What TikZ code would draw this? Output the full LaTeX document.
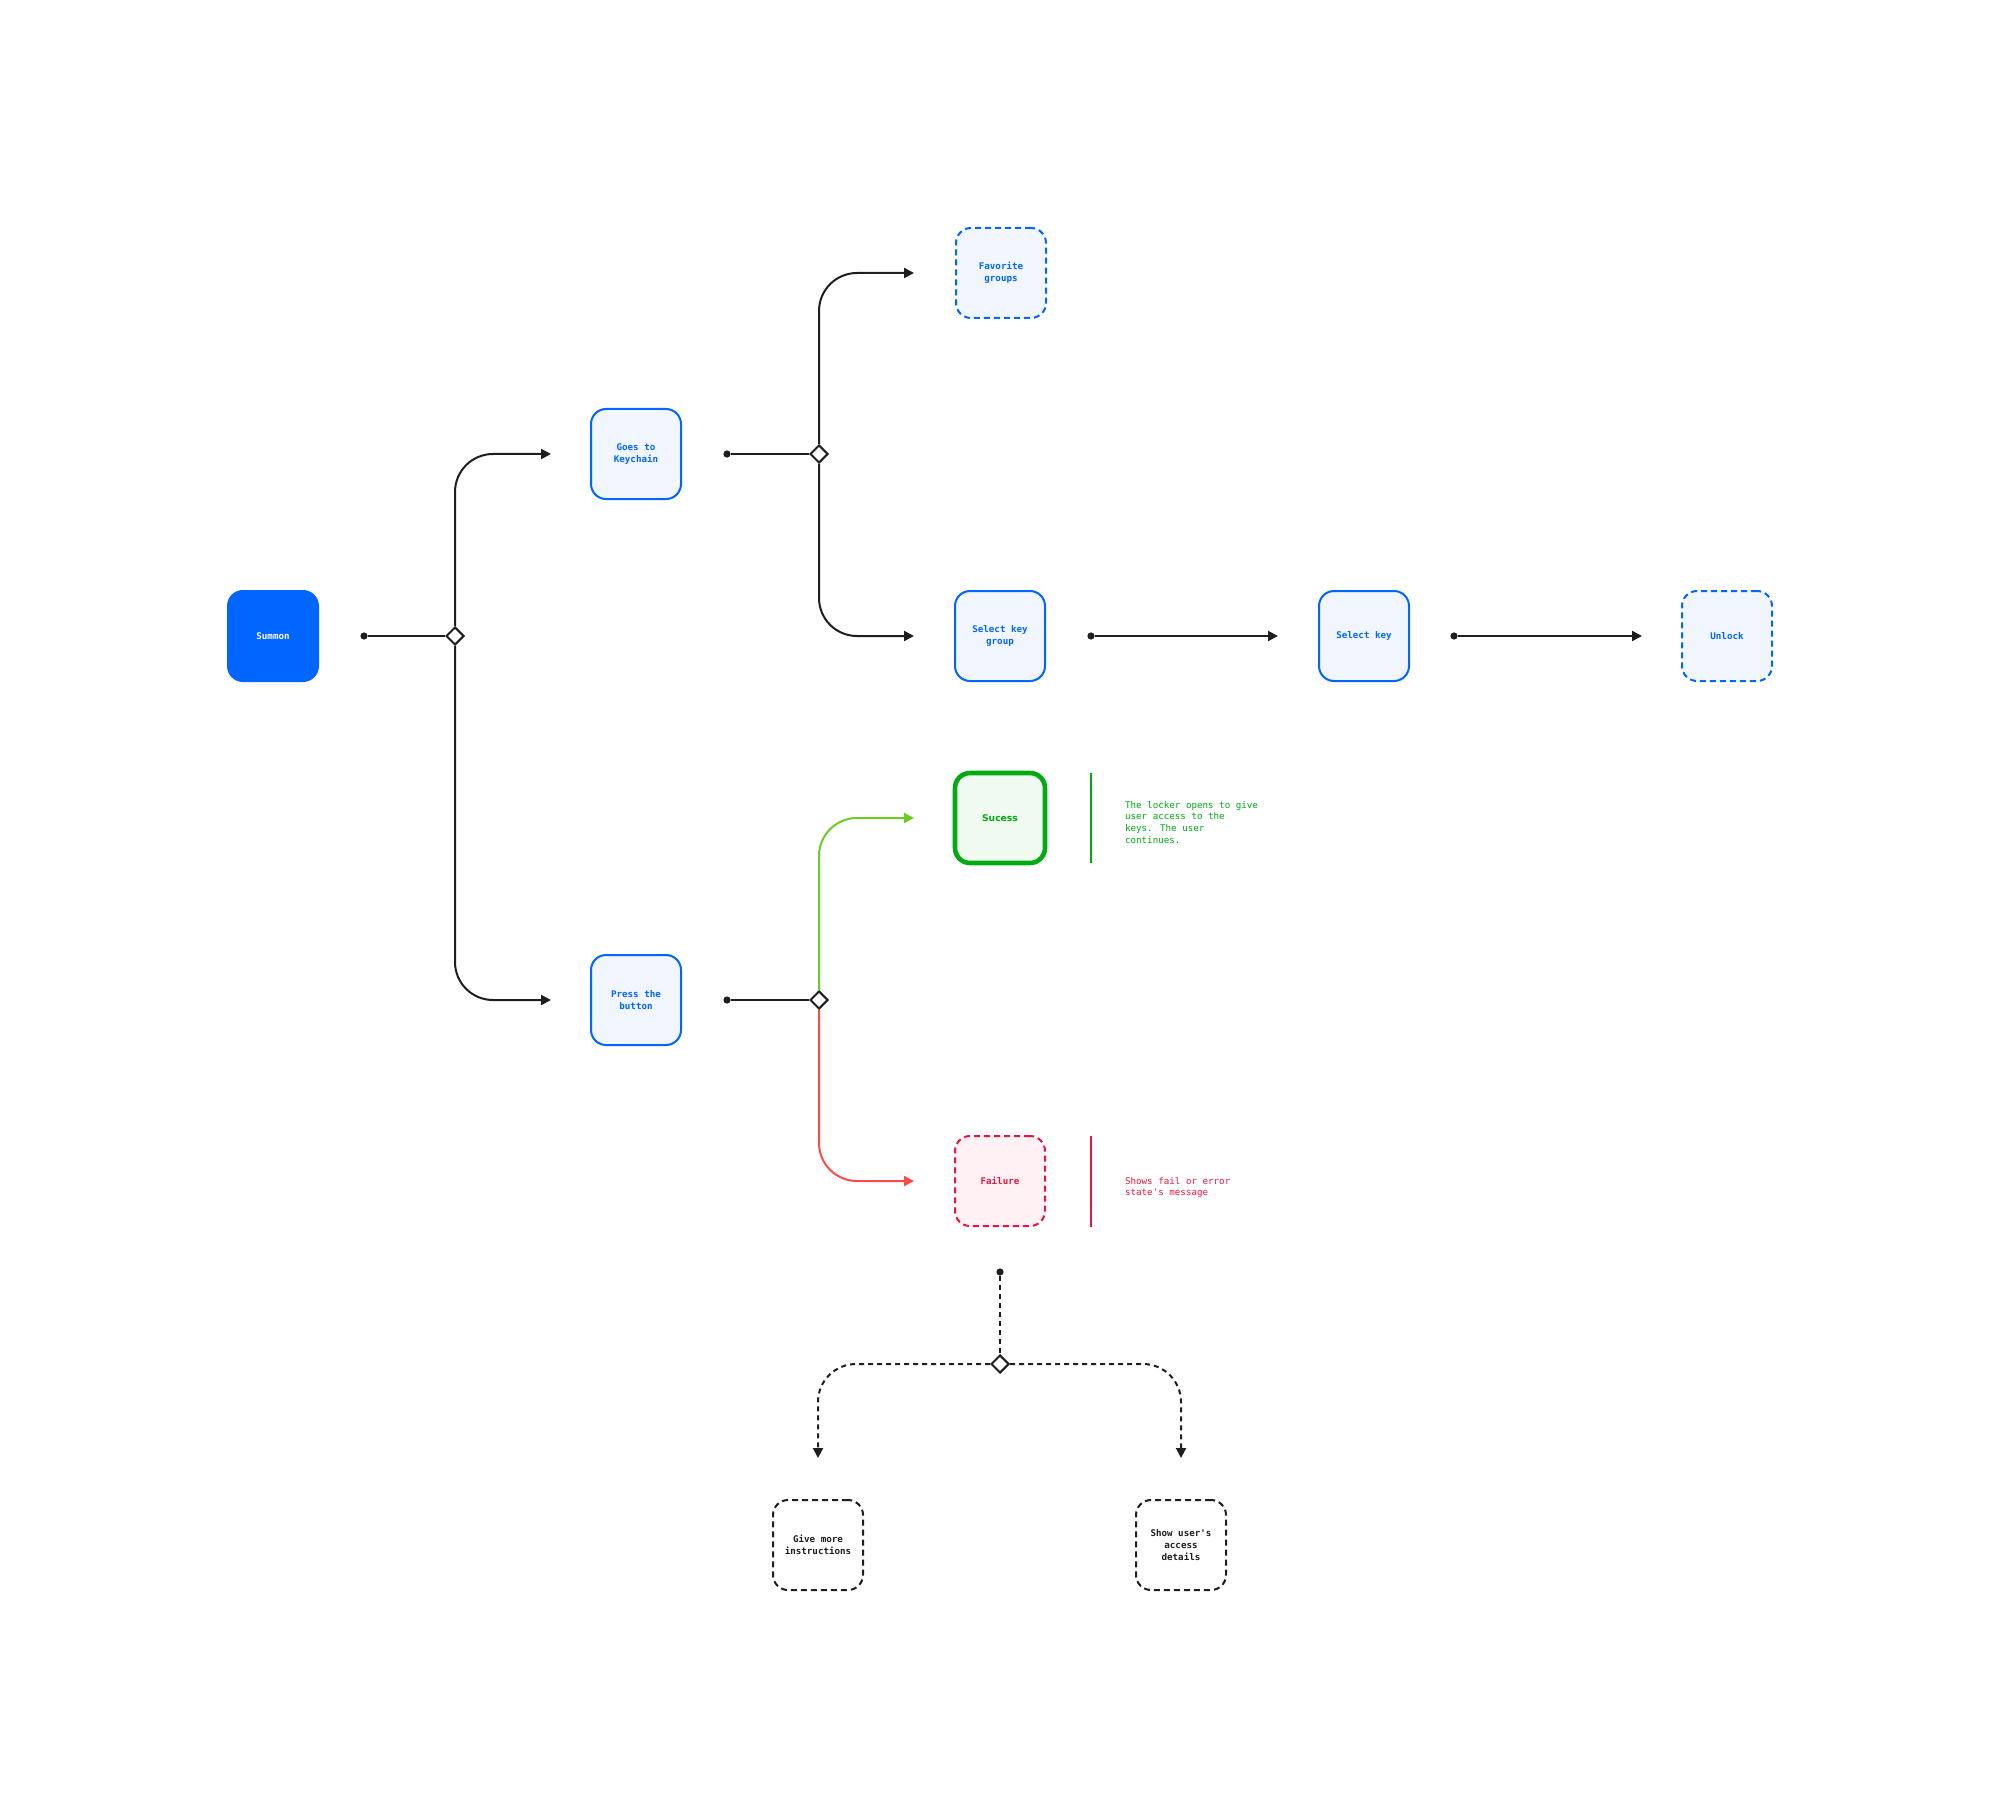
\documentclass[tikz,border=0pt]{standalone}
\usepackage{fontspec}
\newfontfamily\boxmono{DejaVu Sans Mono}
\newfontfamily\boxsans{DejaVu Sans}
\usetikzlibrary{arrows.meta,shapes.geometric}
\definecolor{cblue}{HTML}{0066FF}
\definecolor{cbluebg}{HTML}{F1F5FE}
\definecolor{cgreen}{HTML}{00AA10}
\definecolor{cgreenbg}{HTML}{F0FAF1}
\definecolor{cgreenline}{HTML}{6CCB26}
\definecolor{cred}{HTML}{E8163F}
\definecolor{credbg}{HTML}{FFF1F4}
\definecolor{credline}{HTML}{FF4A4A}
\definecolor{cdark}{HTML}{1E1E1E}
\tikzset{
  boxbase/.style={rectangle, rounded corners=7.5pt, minimum width=45pt, minimum height=45pt,
    inner sep=1pt, align=center, line width=1pt,
    font=\boxmono\bfseries\fontsize{4.6}{6}\selectfont},
  filledbox/.style={boxbase, fill=cblue, draw=cblue, text=white},
  bluebox/.style={boxbase, draw=cblue, fill=cbluebg, text=cblue},
  bluedash/.style={bluebox, dash pattern=on 3pt off 2pt},
  greenbox/.style={boxbase, draw=cgreen, fill=cgreenbg, text=cgreen, line width=2.3pt,
    font=\boxsans\bfseries\fontsize{4.6}{6}\selectfont},
  redbox/.style={boxbase, draw=cred, fill=credbg, text=cred, dash pattern=on 3pt off 2pt},
  greybox/.style={boxbase, draw=cdark, fill=white, text=cdark, dash pattern=on 3pt off 2pt},
  conn/.style={draw=cdark, line width=1pt},
  arr/.style={-{Triangle[length=5pt,width=5pt]}},
  turn/.style={rounded corners=19pt},
  dotted conn/.style={dash pattern=on 2.5pt off 2pt},
  dotnode/.style={circle, fill=cdark, inner sep=0pt, minimum size=3.6pt},
  dia/.style={diamond, draw=cdark, fill=white, line width=1pt, inner sep=0pt, minimum size=9pt},
  note/.style={anchor=north west, align=left, font=\boxmono\fontsize{4.6}{5.9}\selectfont},
}
\begin{document}
\begin{tikzpicture}[x=0.5pt,y=-0.5pt]
\useasboundingbox (0,0) rectangle (2000,1818);
% boxes
\node[filledbox] (summon) at (273,636) {Summon};
\node[bluebox] (keychain) at (636,454) {Goes to\\Keychain};
\node[bluedash] (fav) at (1001,273) {Favorite\\groups};
\node[bluebox] (skg) at (1000,636) {Select key\\group};
\node[bluebox] (sk) at (1364,636) {Select key};
\node[bluedash] (unlock) at (1727,636) {Unlock};
\node[bluebox] (press) at (636,1000) {Press the\\button};
\node[greenbox] (success) at (1000,818) {Sucess};
\node[redbox] (failure) at (1000,1181) {Failure};
\node[greybox] (give) at (818,1545) {Give more\\instructions};
\node[greybox] (show) at (1181,1545) {Show user's\\access\\details};
% junctions
\node[dotnode] (d0) at (364,636) {};
\node[dia] (m0) at (455,636) {};
\node[dotnode] (d1) at (727,454) {};
\node[dia] (m1) at (819,454) {};
\node[dotnode] (d2) at (1091,636) {};
\node[dotnode] (d3) at (1454,636) {};
\node[dotnode] (d4) at (727,1000) {};
\node[dia] (m2) at (819,1000) {};
\node[dotnode] (d5) at (1000,1272) {};
\node[dia] (m3) at (1000,1364) {};
% arrow ends
\coordinate (a1) at (551,454);
\coordinate (a2) at (551,1000);
\coordinate (a3) at (914,273);
\coordinate (a4) at (914,636);
\coordinate (a5) at (1278,636);
\coordinate (a6) at (1642,636);
\coordinate (a7) at (914,818);
\coordinate (a8) at (914,1181);
\coordinate (a9) at (818,1458);
\coordinate (a10) at (1181,1458);
% connectors
\draw[conn] (d0) -- (m0.west);
\draw[conn,arr,turn] (m0.north) |- (a1);
\draw[conn,arr,turn] (m0.south) |- (a2);
\draw[conn] (d1) -- (m1.west);
\draw[conn,arr,turn] (m1.north) |- (a3);
\draw[conn,arr,turn] (m1.south) |- (a4);
\draw[conn,arr] (d2) -- (a5);
\draw[conn,arr] (d3) -- (a6);
\draw[conn] (d4) -- (m2.west);
\draw[conn,draw=cgreenline,arr,turn] (m2.north) |- (a7);
\draw[conn,draw=credline,arr,turn] (m2.south) |- (a8);
\draw[conn,dotted conn] (d5) -- (m3.north);
\draw[conn,dotted conn,arr,turn] (m3.west) -| (a9);
\draw[conn,dotted conn,arr,turn] (m3.east) -| (a10);
% notes
\coordinate (gb1) at (1091,773);
\coordinate (gb2) at (1091,863);
\draw[cgreen, line width=1.2pt] (gb1) -- (gb2);
\node[note, text=cgreen] (gnote) at (1118,794) {The locker opens to give\\user access to the\\keys. The user\\continues.};
\coordinate (rb1) at (1091,1136);
\coordinate (rb2) at (1091,1227);
\draw[cred, line width=1.2pt] (rb1) -- (rb2);
\node[note, text=cred] (rnote) at (1118,1170) {Shows fail or error\\state's message};
\end{tikzpicture}
\end{document}
